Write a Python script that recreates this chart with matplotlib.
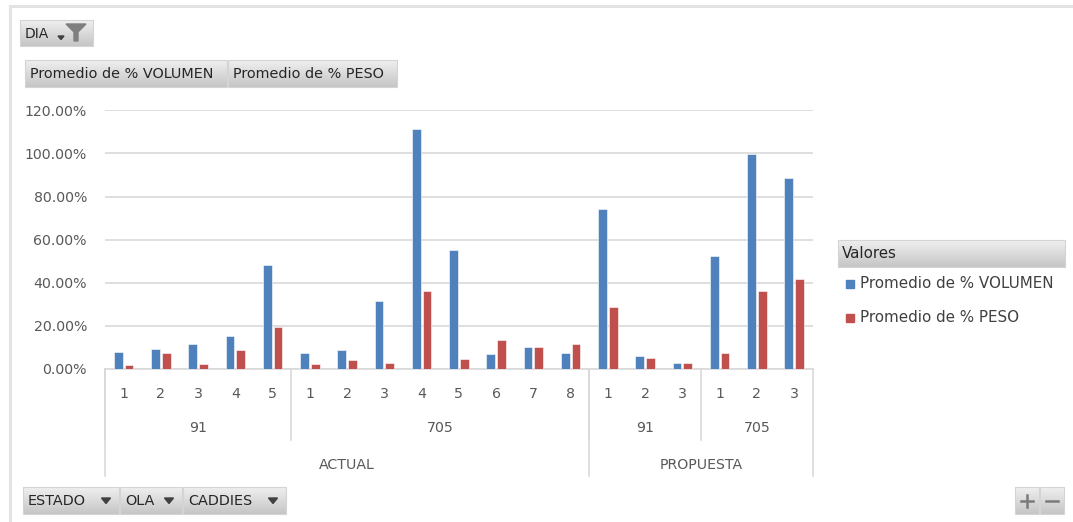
import itertools
import numpy as np
import matplotlib
matplotlib.use("Agg")
import matplotlib.pyplot as plt
from matplotlib.colors import LinearSegmentedColormap
from matplotlib.patches import Rectangle, Polygon

# pivot rows: ESTADO > OLA > CADDIES
estado = ["ACTUAL"] * 13 + ["PROPUESTA"] * 6
ola = ["91"] * 5 + ["705"] * 8 + ["91"] * 3 + ["705"] * 3
caddies = ["1", "2", "3", "4", "5",
           "1", "2", "3", "4", "5", "6", "7", "8",
           "1", "2", "3",
           "1", "2", "3"]
volumen = [8.1, 9.3, 11.5, 15.5, 48.2, 7.4, 8.7, 31.6, 111.2, 55.4, 7.0, 10.4, 7.6,
           74.0, 5.8, 3.0, 52.2, 99.7, 88.7]
peso = [1.7, 7.6, 2.3, 8.7, 19.7, 2.3, 4.2, 3.0, 36.1, 4.8, 13.3, 10.4, 11.5,
        28.6, 5.3, 3.0, 7.6, 36.1, 41.8]
series_names = ["Promedio de % VOLUMEN", "Promedio de % PESO"]
yticks = [0, 20, 40, 60, 80, 100, 120]

BLUE = "#4F81BD"
RED = "#C0504D"
TXT = "#595959"
GRID = "#D9D9D9"
FONT = "DejaVu Sans"

W, H = 1073, 522
fig = plt.figure(figsize=(W / 100, H / 100), dpi=100)


def px_rect(x0, y0, x1, y1):
    return [x0 / W, 1 - y1 / H, (x1 - x0) / W, (y1 - y0) / H]


ax = fig.add_axes(px_rect(105, 110.3, 812.7, 369))
n = len(caddies)
x = np.arange(n)
bw = 0.235
ax.bar(x - 0.145, volumen, bw, color=BLUE, edgecolor="white", linewidth=0.4,
       label=series_names[0], zorder=3)
ax.bar(x + 0.145, peso, bw, color=RED, edgecolor="white", linewidth=0.4,
       label=series_names[1], zorder=3)
ax.set_xlim(-0.5, n - 0.5)
ax.set_ylim(0, 120)
ax.set_yticks(yticks)
ax.set_yticklabels(["%.2f%%" % v for v in yticks])
ax.yaxis.grid(True, color=GRID, linewidth=1.2, zorder=0)
for s in ["top", "right", "left"]:
    ax.spines[s].set_visible(False)
ax.spines["bottom"].set_color(GRID)
ax.spines["bottom"].set_linewidth(1.2)
ax.set_xticks(x)
ax.set_xticklabels(caddies)
ax.tick_params(axis="both", length=0, labelcolor=TXT, labelsize=10.2)
ax.tick_params(axis="y", pad=13)
ax.tick_params(axis="x", pad=13)
for lab in ax.get_xticklabels() + ax.get_yticklabels():
    lab.set_fontfamily(FONT)

# multi-level category labels and separators
trans = ax.get_xaxis_transform()
ax_h = 369 - 110.3


def fy(py):
    return (369 - py) / ax_h


def spans(keys):
    i = 0
    out = []
    for k, g in itertools.groupby(keys):
        c = len(list(g))
        out.append((k, i, i + c))
        i += c
    return out


for name, a, b in spans(list(zip(estado, ola))):
    ax.text((a + b - 1) / 2, fy(428), name[1], transform=trans, ha="center",
            va="center", color=TXT, fontsize=10.2, family=FONT)
    ax.plot([a - 0.5, a - 0.5], [0, fy(440)], transform=trans, color=GRID,
            lw=1.2, clip_on=False)
for name, a, b in spans(estado):
    ax.text((a + b - 1) / 2, fy(465), name, transform=trans, ha="center",
            va="center", color=TXT, fontsize=10.2, family=FONT)
    ax.plot([a - 0.5, a - 0.5], [0, fy(476)], transform=trans, color=GRID,
            lw=1.2, clip_on=False)
ax.plot([n - 0.5, n - 0.5], [0, fy(476)], transform=trans, color=GRID,
        lw=1.2, clip_on=False)

# overlay in pixel coordinates for the pivot field buttons
ov = fig.add_axes([0, 0, 1, 1], zorder=-1)
ov.set_axis_off()
grad = LinearSegmentedColormap.from_list("btn", ["#EFEFEF", "#C6C6C6"])


def button(x0, y0, x1, y1, label=None, arrow=False, size=10.4):
    ov.imshow(np.linspace(0, 1, 32).reshape(-1, 1), cmap=grad, aspect="auto",
              extent=(x0, x1, y1, y0), interpolation="bilinear", zorder=1)
    ov.add_patch(Rectangle((x0, y0), x1 - x0, y1 - y0, fill=False,
                           edgecolor="#D4D4D4", lw=0.8, zorder=2))
    if label:
        ov.text(x0 + 5, (y0 + y1) / 2 + 0.5, label, ha="left",
                va="center", fontsize=size, color="#262626", family=FONT, zorder=3)
    if arrow:
        cx, cy = x1 - 13, (y0 + y1) / 2
        ov.add_patch(Polygon([[cx - 4.5, cy - 2.5], [cx + 4.5, cy - 2.5], [cx, cy + 3]],
                             closed=True, color="#404040", zorder=3))


# outer frame
ov.plot([10, W], [6, 6], color="#E3E3E3", lw=2.2)
ov.plot([10, 10], [6, H], color="#E3E3E3", lw=2.2)

button(20, 20, 93, 46, "DIA", size=10)
ov.add_patch(Polygon([[58, 36], [64, 36], [61, 39.5]], closed=True,
                     color="#404040", zorder=3))
ov.add_patch(Polygon([[66, 24], [86, 24], [78, 32], [78, 41], [74, 41], [74, 32]],
                     closed=True, color="#7F7F7F", zorder=3))

button(25, 60, 227, 87, series_names[0])
button(228, 60, 397, 87, series_names[1])

button(23, 487, 119, 514, "ESTADO", arrow=True)
button(120, 487, 182, 514, "OLA", arrow=True)
button(183, 487, 286, 514, "CADDIES", arrow=True)

button(1015, 487, 1039, 514)
button(1040, 487, 1064, 514)
ov.plot([1021, 1033], [500.5, 500.5], color="#7A7A7A", lw=1.8, zorder=3)
ov.plot([1027, 1027], [494.5, 506.5], color="#7A7A7A", lw=1.8, zorder=3)
ov.plot([1046, 1058], [500.5, 500.5], color="#7A7A7A", lw=1.8, zorder=3)

# legend
button(838, 240, 1065, 267)
ov.text(842, 254, "Valores", ha="left", va="center", fontsize=10.8, color="#262626",
        family=FONT, zorder=3)
for i, (nm, col) in enumerate(zip(series_names, [BLUE, RED])):
    yy = 284 + 34 * i
    ov.add_patch(Rectangle((846, yy - 4), 8, 8, color=col, zorder=3))
    ov.text(860, yy, nm, ha="left", va="center", fontsize=10.9, color="#404040",
            family=FONT, zorder=3)

ov.set_xlim(0, W)
ov.set_ylim(H, 0)

fig.savefig("out.png", dpi=100, facecolor="white")
